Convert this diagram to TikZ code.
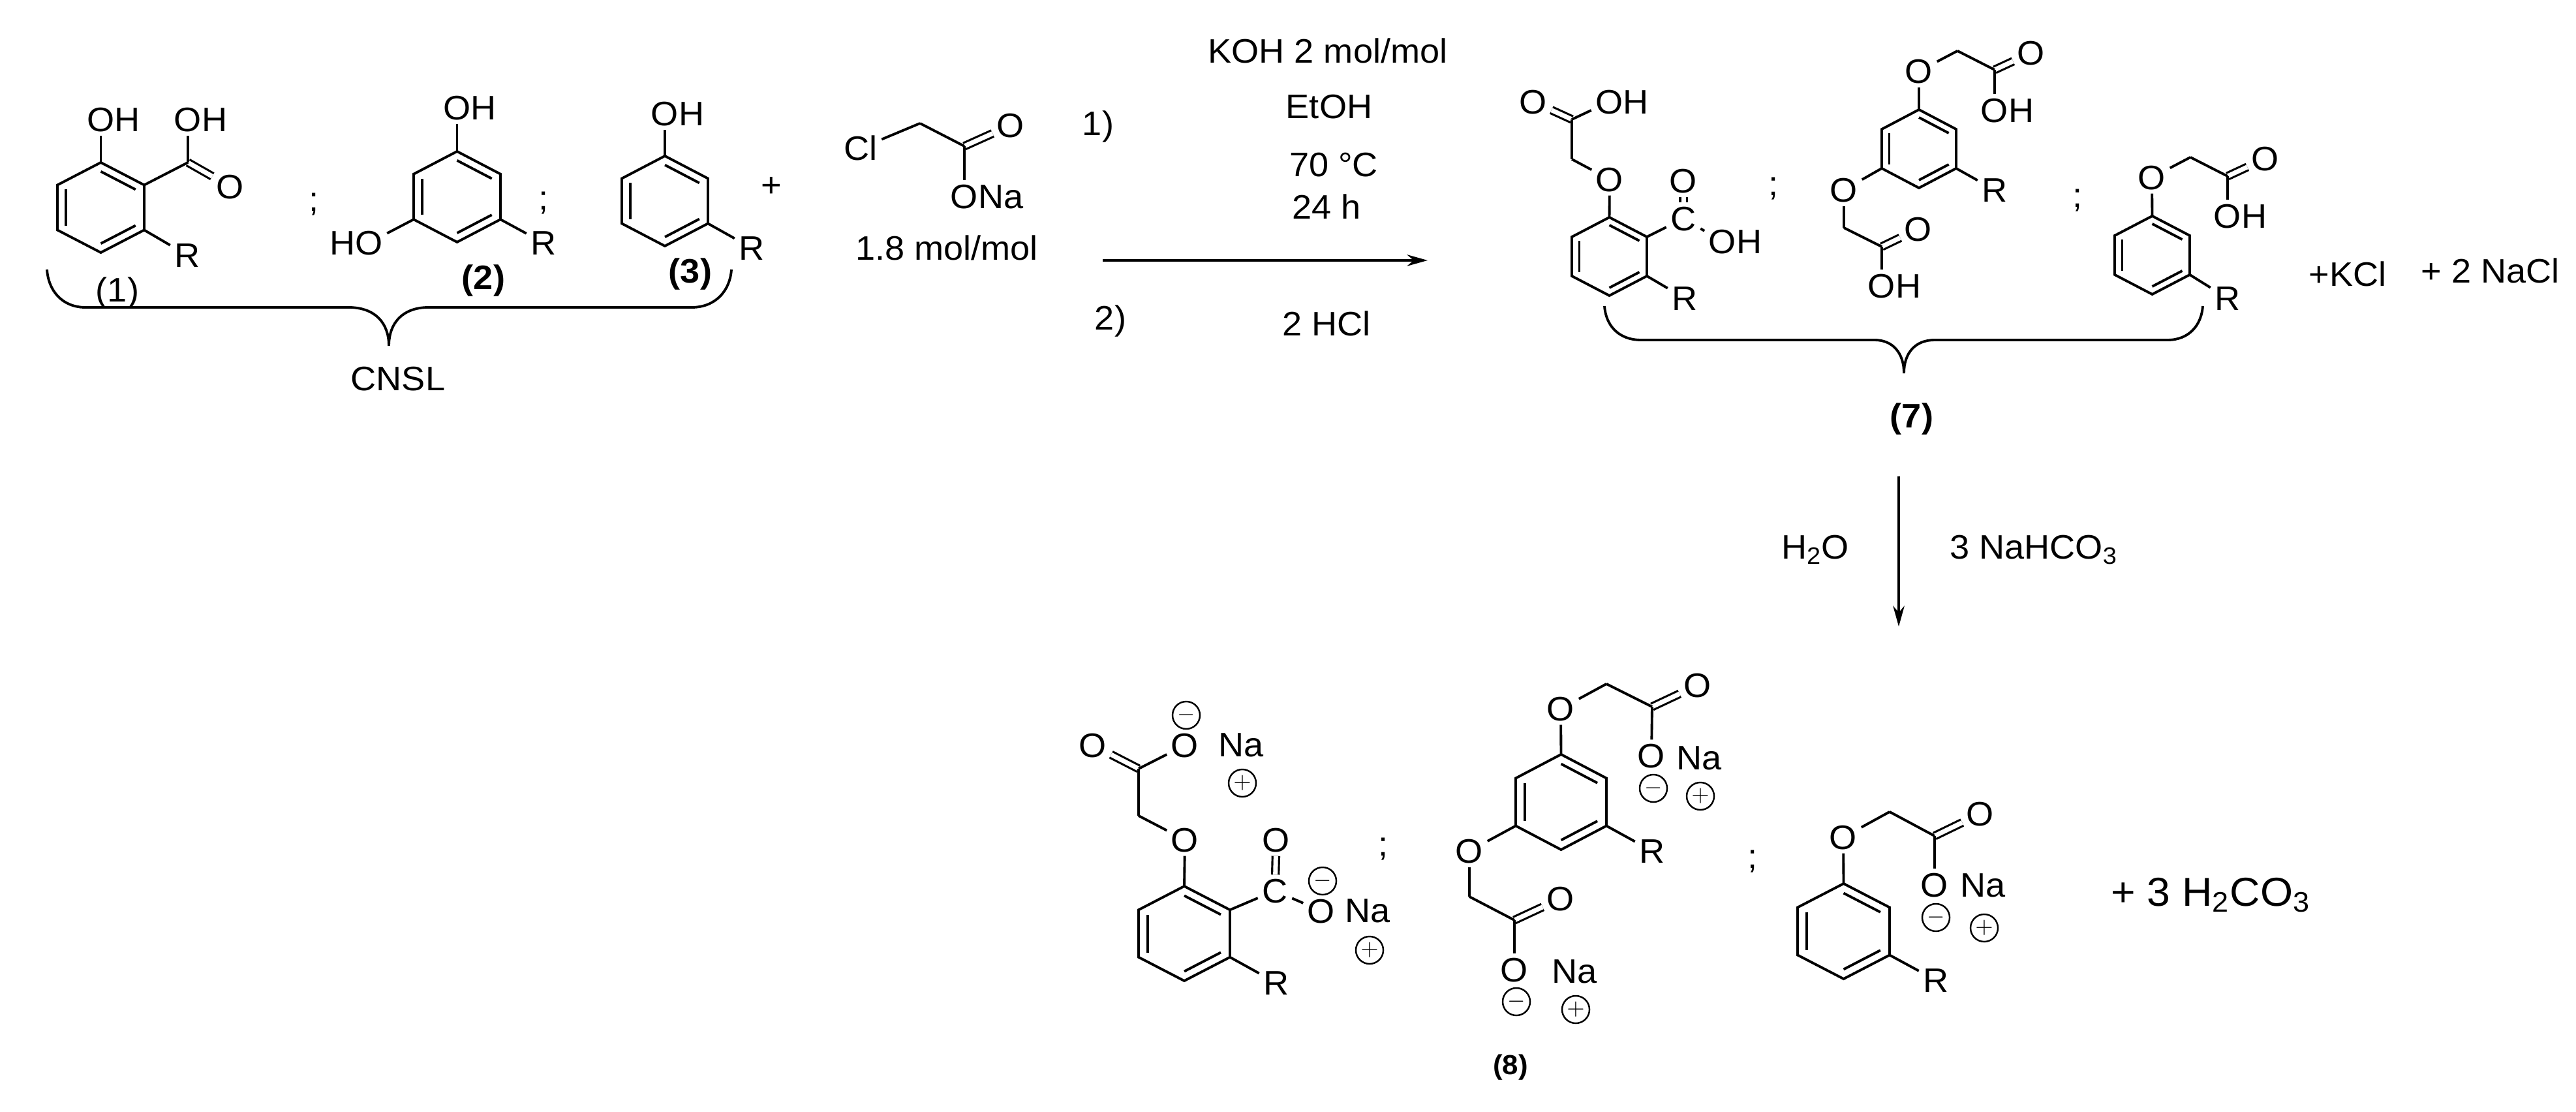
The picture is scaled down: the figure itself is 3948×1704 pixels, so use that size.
\documentclass[tikz,border=0pt]{standalone}
\usepackage{fontspec}
\setmainfont[FakeStretch=1.04]{Liberation Sans}
\usetikzlibrary{arrows.meta,calc}
\tikzset{
  atom/.style={font=\fontsize{14.8}{17}\selectfont,inner xsep=.06cm,inner ysep=.053cm,text height=10.6pt,text depth=0pt},
  lab/.style={atom,inner sep=0pt},
  charge/.style={circle,draw,line width=.7pt,minimum size=.42cm,inner sep=0pt},
  bond/.style={line width=1.1pt},
  dbl/.style={double,double distance=2pt,line width=.9pt},
  rxn/.style={line width=1pt,-{Stealth[length=9pt,width=5pt]}},
}
\newcommand{\benzene}[5]{
  \coordinate (#1c) at (#2,#3);
  \coordinate (#1t) at (#2,{#3-#5});
  \coordinate (#1ur) at ({#2+#4},{#3-#5/2});
  \coordinate (#1lr) at ({#2+#4},{#3+#5/2});
  \coordinate (#1b) at (#2,{#3+#5});
  \coordinate (#1ll) at ({#2-#4},{#3+#5/2});
  \coordinate (#1ul) at ({#2-#4},{#3-#5/2});
  \draw[bond] (#1t) -- (#1ur) -- (#1lr) -- (#1b) -- (#1ll) -- (#1ul) -- cycle;
  \draw[bond] ($(#1t)!.2!(#1c)$) -- ($(#1ur)!.2!(#1c)$);
  \draw[bond] ($(#1lr)!.2!(#1c)$) -- ($(#1b)!.2!(#1c)$);
  \draw[bond] ($(#1ll)!.2!(#1c)$) -- ($(#1ul)!.2!(#1c)$);
}
\begin{document}
\begin{tikzpicture}[x=0.01cm,y=-0.01cm]
      \useasboundingbox (0,0) rectangle (3948,1704);
      \benzene{ra}{154.5}{318}{66.5}{69}
      \benzene{rb}{700.5}{301.5}{66.5}{69.5}
      \benzene{rc}{1019}{308}{66}{69}
      \benzene{sa}{2466.5}{393}{57.5}{60}
      \benzene{sb}{2941}{228}{57}{60}
      \benzene{sc}{3298.5}{391}{57.5}{60}
      \benzene{ta}{1815}{1430.5}{70}{72.5}
      \benzene{tb}{2392.5}{1229}{69.5}{73}
      \benzene{tc}{2825.5}{1427}{70.5}{73}
      \draw
        (154.5,183) node[atom] (oa1){O\rlap{H}}
        (288,183) node[atom] (oa2){O\rlap{H}}
        (353,286) node[atom] (oa3){O}
        (288,249) coordinate (ca)
        (287,391) node[atom] (la){R}
        (700.5,165) node[atom] (ob1){O\rlap{H}}
        (565.5,372) node[atom] (ob2){\llap{H}O}
        (833,372) node[atom] (lb){R}
        (1019,174) node[atom] (oc1){O\rlap{H}}
        (1152,380) node[atom] (lc){R}
        (1319,227) node[atom] (cl){Cl}
        (1410,189) coordinate (ch)
        (1478,224) coordinate (cx)
        (1549,192) node[atom] (ox1){O}
        (1478,301) node[atom] (ox2){O\rlap{Na}}
        (2467,275) node[atom] (pa1){O}
        (2409,244) coordinate (pah)
        (2409,183) coordinate (pac)
        (2350,156) node[atom] (pa2){O}
        (2466.5,156) node[atom] (pa3){O\rlap{H}}
        (2580,335) node[atom] (pad){C}
        (2580,277) node[atom] (pa4){O}
        (2640,370) node[atom] (pa5){O\rlap{H}}
        (2582,457) node[atom] (pal){R}
        (2941,109) node[atom] (pb1){O}
        (3000,78) coordinate (pbh)
        (3057,107) coordinate (pbc)
        (3113,81) node[atom] (pb2){O}
        (3057,169) node[atom] (pb3){O\rlap{H}}
        (2826,291) node[atom] (pb4){O}
        (2826,349) coordinate (pbi)
        (2884,378) coordinate (pbd)
        (2940,351) node[atom] (pb5){O}
        (2884,438) node[atom] (pb6){O\rlap{H}}
        (3057,291) node[atom] (pbl){R}
        (3298,272) node[atom] (pc1){O}
        (3357,241) coordinate (pch)
        (3414,270) coordinate (pcc)
        (3472,243) node[atom] (pc2){O}
        (3414,331) node[atom] (pc3){O\rlap{H}}
        (3414,457) node[atom] (pcl){R}
        (1816,1287) node[atom] (qa1){O}
        (1745,1250) coordinate (qah)
        (1745,1178) coordinate (qac)
        (1675,1142) node[atom] (qa2){O}
        (1816,1142) node[atom] (qa3){O}
        (1954,1365) node[atom] (qad){C}
        (1956,1287) node[atom] (qa4){O}
        (2025,1396) node[atom] (qa5){O}
        (1956,1506) node[atom] (qal){R}
        (2392,1086) node[atom] (qb1){O}
        (2462,1048) coordinate (qbh)
        (2532,1083) coordinate (qbc)
        (2602,1050) node[atom] (qb2){O}
        (2531,1158) node[atom] (qb3){O}
        (2252,1304) node[atom] (qb4){O}
        (2252,1374) coordinate (qbi)
        (2321,1410) coordinate (qbd)
        (2392,1377) node[atom] (qb5){O}
        (2321,1486) node[atom] (qb6){O}
        (2532,1304) node[atom] (qbl){R}
        (2825,1283) node[atom] (qc1){O}
        (2896,1244) coordinate (qch)
        (2965,1281) coordinate (qcc)
        (3035,1247) node[atom] (qc2){O}
        (2965,1356) node[atom] (qc3){O}
        (2967,1502) node[atom] (qcl){R};
      \draw
        (1818,1096) node[charge] (ma1){$-$}
        (1904,1200) node[charge] (pl1){$+$}
        (2027,1350) node[charge] (ma2){$-$}
        (2099,1456) node[charge] (pl2){$+$}
        (2534,1208) node[charge] (mb1){$-$}
        (2606,1220) node[charge] (pl3){$+$}
        (2324,1535) node[charge] (mb2){$-$}
        (2415,1547) node[charge] (pl4){$+$}
        (2967,1406) node[charge] (mc1){$-$}
        (3041,1422) node[charge] (pl5){$+$};
      \draw
        (1902,1141) node[lab] (na1){Na}
        (2096,1395) node[lab] (na2){Na}
        (2604,1161) node[lab] (na3){Na}
        (2413,1488) node[lab] (na4){Na}
        (3039,1356) node[lab] (na5){Na}
        (180,444) node[lab] (n1){(1)}
        (741,425) node[lab] (n2){\textbf{(2)}}
        (1058,415) node[lab] (n3){\textbf{(3)}}
        (2930,637) node[lab] (n7){\textbf{(7)}}
        (2315,1628) node[lab,font=\fontsize{12}{14}\selectfont] (n8){\textbf{(8)}}
        (610,580) node[lab] (cnsl){CNSL}
        (1182,283) node[lab] (plus){+}
        (481,305) node[lab] (se1){;}
        (833,303) node[lab] (se2){;}
        (2718,281) node[lab] (se3){;}
        (3184,299) node[lab] (se4){;}
        (2120,1293) node[lab] (se5){;}
        (2686,1312) node[lab] (se6){;}
        (1451,380) node[lab] (mol){1.8 mol/mol}
        (1683,189) node[lab] (st1){1)}
        (1702,487) node[lab] (st2){2)}
        (2035,78) node[lab] (koh){KOH 2 mol/mol}
        (2037,163) node[lab] (etoh){EtOH}
        (2044,252) node[lab] (temp){70 °C}
        (2033,317) node[lab] (time){24 h}
        (2033,496) node[lab] (hcl){2 HCl}
        (3598,420) node[lab] (kcl){+KCl}
        (3817,415) node[lab] (nacl){+ 2 NaCl}
        (2782,838) node[lab] (water){H\textsubscript{2}O}
        (3117,838) node[lab] (bicarb){3 NaHCO\textsubscript{3}}
        (3388,1370) node[lab,font=\fontsize{17.6}{20}\selectfont] (acid){+ 3 H\textsubscript{2}CO\textsubscript{3}};
      \begin{scope}[bond]
        \draw[dbl] (ca) to (oa3);
        \draw[dbl] (cx) to (ox1);
        \draw[dbl] (pac) to (pa2);
        \draw[dbl] (pad) to (pa4);
        \draw[dbl] (pbc) to (pb2);
        \draw[dbl] (pbd) to (pb5);
        \draw[dbl] (pcc) to (pc2);
        \draw[dbl] (qac) to (qa2);
        \draw[dbl] (qad) to (qa4);
        \draw[dbl] (qbc) to (qb2);
        \draw[dbl] (qbd) to (qb5);
        \draw[dbl] (qcc) to (qc2);
        \draw (rat) to (oa1);
        \draw (raur) to (ca);
        \draw (ca) to (oa2);
        \draw (ralr) to (la);
        \draw (rbt) to (ob1);
        \draw (rbll) to (ob2);
        \draw (rblr) to (lb);
        \draw (rct) to (oc1);
        \draw (rclr) to (lc);
        \draw (cl) to (ch);
        \draw (ch) to (cx);
        \draw (cx) to (ox2);
        \draw (sat) to (pa1);
        \draw (pa1) to (pah);
        \draw (pah) to (pac);
        \draw (pac) to (pa3);
        \draw (saur) to (pad);
        \draw (pad) to (pa5);
        \draw (salr) to (pal);
        \draw (sbt) to (pb1);
        \draw (pb1) to (pbh);
        \draw (pbh) to (pbc);
        \draw (pbc) to (pb3);
        \draw (sbll) to (pb4);
        \draw (pb4) to (pbi);
        \draw (pbi) to (pbd);
        \draw (pbd) to (pb6);
        \draw (sblr) to (pbl);
        \draw (sct) to (pc1);
        \draw (pc1) to (pch);
        \draw (pch) to (pcc);
        \draw (pcc) to (pc3);
        \draw (sclr) to (pcl);
        \draw (tat) to (qa1);
        \draw (qa1) to (qah);
        \draw (qah) to (qac);
        \draw (qac) to (qa3);
        \draw (taur) to (qad);
        \draw (qad) to (qa5);
        \draw (talr) to (qal);
        \draw (tbt) to (qb1);
        \draw (qb1) to (qbh);
        \draw (qbh) to (qbc);
        \draw (qbc) to (qb3);
        \draw (tbll) to (qb4);
        \draw (qb4) to (qbi);
        \draw (qbi) to (qbd);
        \draw (qbd) to (qb6);
        \draw (tblr) to (qbl);
        \draw (tct) to (qc1);
        \draw (qc1) to (qch);
        \draw (qch) to (qcc);
        \draw (qcc) to (qc3);
        \draw (tclr) to (qcl);
      \end{scope}
      \draw
        (1690,399) coordinate (a1s)
        (2188,399) coordinate (a1e)
        (2910,730) coordinate (a2s)
        (2910,960) coordinate (a2e);
      \draw[rxn] (a1s) to (a1e);
      \draw[rxn] (a2s) to (a2e);
      \draw
        (72,413) coordinate (ba1)
        (131,471) coordinate (ba2)
        (534,471) coordinate (ba3)
        (596,530) coordinate (ba4)
        (657,471) coordinate (ba5)
        (1060,471) coordinate (ba6)
        (1121,413) coordinate (ba7)
        (2459,469) coordinate (bb1)
        (2515,521) coordinate (bb2)
        (2873,521) coordinate (bb3)
        (2918,572) coordinate (bb4)
        (2965,521) coordinate (bb5)
        (3322,521) coordinate (bb6)
        (3376,469) coordinate (bb7);
      \draw[bond] (ba1) .. controls (74,445) and (95,471) .. (ba2) -- (ba3)
        .. controls (575,471) and (596,495) .. (ba4)
        .. controls (596,495) and (617,471) .. (ba5) -- (ba6)
        .. controls (1097,471) and (1119,445) .. (ba7);
      \draw[bond] (bb1) .. controls (2461,498) and (2480,521) .. (bb2) -- (bb3)
        .. controls (2900,521) and (2918,540) .. (bb4)
        .. controls (2918,540) and (2936,521) .. (bb5) -- (bb6)
        .. controls (3355,521) and (3374,498) .. (bb7);
    \end{tikzpicture}
\end{document}
